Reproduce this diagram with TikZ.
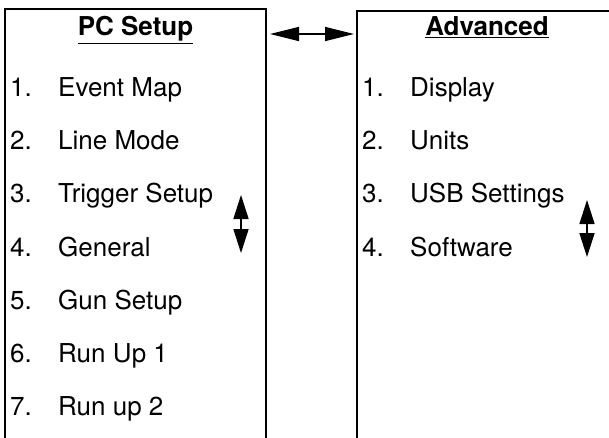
\documentclass[tikz,border=0pt]{standalone}
\usepackage{fontspec}
\setmainfont{TeX Gyre Heros}
\usetikzlibrary{arrows.meta,positioning}

\begin{document}
\begin{tikzpicture}[x=1pt, y=-1pt, every node/.style={font=\fontsize{26}{30}\selectfont, inner sep=0pt}, item/.style={anchor=base west}, head/.style={anchor=base, font=\fontsize{26}{30}\selectfont\bfseries}, frame/.style={line width=2.6pt}, arrow/.style={{Triangle[length=29pt,width=14pt]}-{Triangle[length=29pt,width=14pt]}, line width=1.6pt}, updown/.style={{Triangle[length=24pt,width=15pt]}-{Triangle[length=24pt,width=15pt]}, line width=1.6pt}]
\useasboundingbox (0,0) rectangle (609,438);
\draw[frame] (5,440) -- (5,9) -- (266,9) -- (266,440);
\draw[frame] (357,440) -- (357,11) -- (611,11);
\node[head] (pc) at (135.5,36) {\underline{PC Setup}};
\node[head] (adv) at (487,36) {\underline{Advanced}};
\foreach \t [count=\i] in {Event Map,Line Mode,Trigger Setup,General,Gun Setup,Run Up 1,Run up 2}{
  \node[item] (ln\i) at (10,{96.5+53.2*(\i-1)}) {\i.};
  \node[item] (lt\i) at (58,{96.5+53.2*(\i-1)}) {\t};
}
\foreach \t [count=\i] in {Display,Units,USB Settings,Software}{
  \node[item] (rn\i) at (362,{96.5+53.2*(\i-1)}) {\i.};
  \node[item] (rt\i) at (410,{96.5+53.2*(\i-1)}) {\t};
}
\coordinate (hl) at (270,34);
\coordinate (hr) at (354,34);
\coordinate (lu) at (241,195);
\coordinate (ld) at (241,253);
\coordinate (ru) at (587,200);
\coordinate (rd) at (587,257);
\draw[arrow] (hl) -- (hr);
\draw[updown] (lu) -- (ld);
\draw[updown] (ru) -- (rd);
\end{tikzpicture}
\end{document}
